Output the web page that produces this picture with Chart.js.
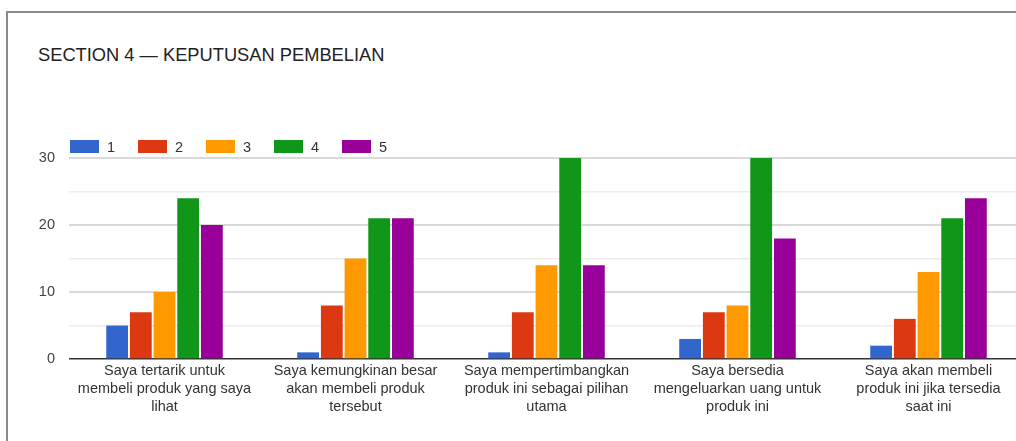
<!DOCTYPE html>
<html>
<head>
<meta charset="utf-8">
<script src="https://cdn.jsdelivr.net/npm/chart.js@4"></script>
<style>
  html, body { margin: 0; padding: 0; background: #fff; overflow: hidden; }
  body { width: 1016px; height: 441px; position: relative; }
  #frame {
    position: absolute; left: 6px; top: 11px; width: 1040px; height: 460px;
    border: 2px solid #8a8a8a; box-sizing: border-box;
  }
  #title {
    position: absolute; left: 38px; top: 44px;
    font: 18.3px "Liberation Sans", Arial, sans-serif; color: #222;
  }
  #wrap { position: absolute; left: 0; top: 0; width: 1040px; height: 441px; }
</style>
</head>
<body>
<div id="frame"></div>
<div id="title">SECTION 4 — KEPUTUSAN PEMBELIAN</div>
<div id="wrap"><canvas id="chart"></canvas></div>
<script>
// Categories (questions), wrapped as they appear on the axis
const categories = [
  ['Saya tertarik untuk', 'membeli produk yang saya', 'lihat'],
  ['Saya kemungkinan besar', 'akan membeli produk', 'tersebut'],
  ['Saya mempertimbangkan', 'produk ini sebagai pilihan', 'utama'],
  ['Saya bersedia', 'mengeluarkan uang untuk', 'produk ini'],
  ['Saya akan membeli', 'produk ini jika tersedia', 'saat ini']
];

// Likert scores 1..5, one array per score
const seriesNames = ['1', '2', '3', '4', '5'];
const score1 = [5, 1, 1, 3, 2];
const score2 = [7, 8, 7, 7, 6];
const score3 = [10, 15, 14, 8, 13];
const score4 = [24, 21, 30, 30, 21];
const score5 = [20, 21, 14, 18, 24];

const seriesColors = ['#3366cc', '#dc3912', '#ff9900', '#109618', '#990099'];

const yTickLabels = { 0: '0', 10: '10', 20: '20', 30: '30' };

const allScores = [score1, score2, score3, score4, score5];
const FONT = '"Liberation Sans", Arial, sans-serif';

// Legend drawn above the plot, lined up with the chart area
const topLegend = {
  id: 'topLegend',
  afterDraw(chart) {
    const ctx = chart.ctx;
    const area = chart.chartArea;
    let x = area.left + 1;
    const y = area.top - 11.5;
    ctx.save();
    ctx.font = '14.5px ' + FONT;
    ctx.textBaseline = 'middle';
    chart.data.datasets.forEach(ds => {
      ctx.fillStyle = ds.backgroundColor;
      ctx.fillRect(x, y - 6.5, 29, 13);
      ctx.fillStyle = '#333';
      ctx.fillText(ds.label, x + 37, y + 1);
      x += 68;
    });
    ctx.restore();
  }
};

new Chart(document.getElementById('chart'), {
  type: 'bar',
  data: {
    labels: categories,
    datasets: allScores.map((vals, i) => ({
      label: seriesNames[i],
      data: vals,
      backgroundColor: seriesColors[i],
      borderWidth: 0,
      categoryPercentage: 0.62,
      barPercentage: 0.92
    }))
  },
  options: {
    responsive: true,
    maintainAspectRatio: false,
    animation: false,
    layout: { padding: { left: 30, right: 16, top: 158, bottom: 22 } },
    plugins: {
      legend: { display: false },
      tooltip: { enabled: false }
    },
    scales: {
      x: {
        grid: { display: false, drawTicks: false },
        border: { display: false },
        ticks: {
          autoSkip: false,
          maxRotation: 0,
          padding: 3,
          color: '#333',
          font: { family: FONT, size: 14.5, lineHeight: 1.24 }
        }
      },
      y: {
        min: 0,
        max: 30,
        afterFit(scale) { scale.width = 39; },
        border: { display: false },
        grid: {
          drawTicks: false,
          color: ctx => ctx.tick.value === 0 ? '#333333' : (ctx.tick.value % 10 === 0 ? '#d9d9d9' : '#ececec'),
          lineWidth: ctx => ctx.tick.value === 0 ? 1.5 : (ctx.tick.value % 10 === 0 ? 2 : 1.5)
        },
        ticks: {
          stepSize: 5,
          padding: 14,
          color: '#444',
          font: { family: FONT, size: 14.5 },
          callback: v => yTickLabels[v] || ''
        }
      }
    }
  },
  plugins: [topLegend]
});
</script>
</body>
</html>
